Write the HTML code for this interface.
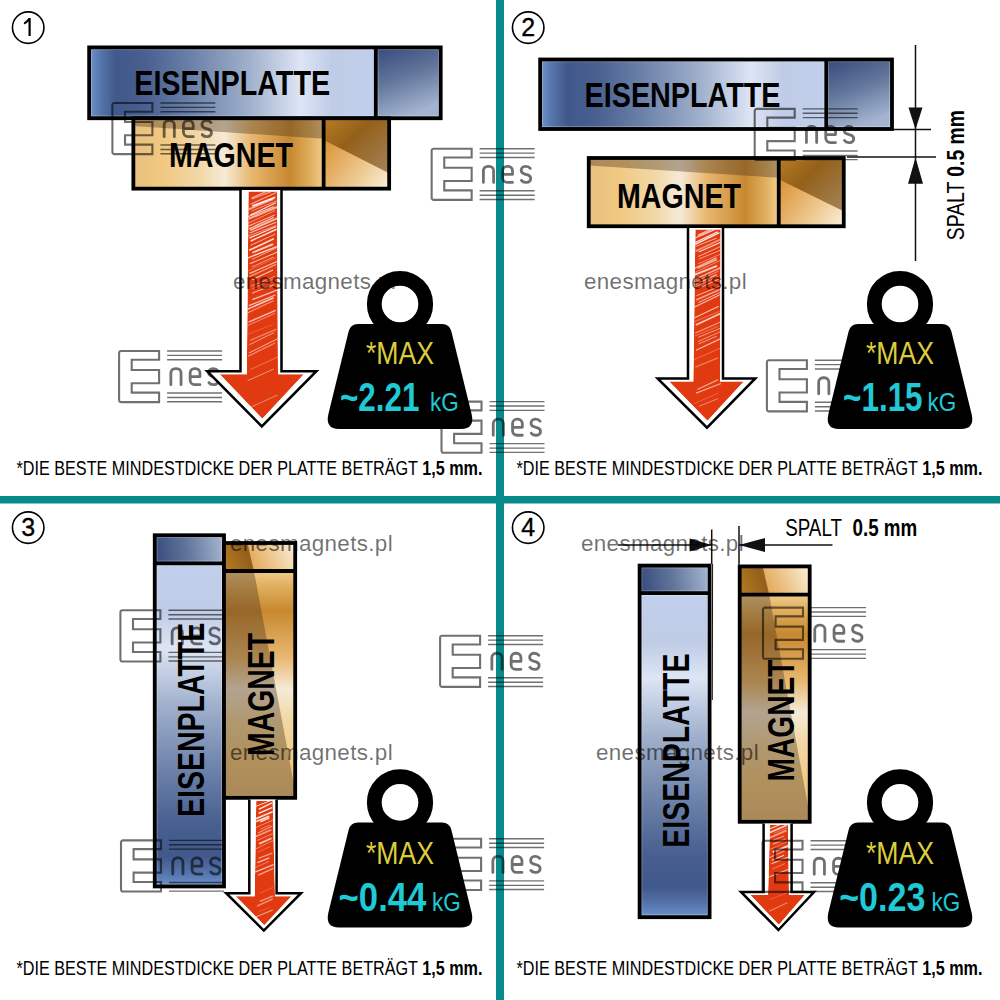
<!DOCTYPE html>
<html><head><meta charset="utf-8"><style>html,body{margin:0;padding:0;background:#fff;overflow:hidden}svg{display:block;font-family:"Liberation Sans",sans-serif}</style></head><body>
<svg width="1000" height="1000" viewBox="0 0 1000 1000" font-family="&apos;Liberation Sans&apos;, sans-serif"><defs><g id="logo" fill="none" stroke="rgba(0,0,0,0.56)"><path d="M0,2.2 Q0,0 2.2,0 H40 V8.75 H12.6 V19 H40 V32.25 H12.6 V41.65 H40 V51.15 H2.2 Q0,51.15 0,48.95 Z" stroke-width="2.1"/><path d="M48,0 H103 M48,4.4 H103 M48,8.75 H103 M48,42.05 H103 M48,46.55 H103 M48,50.75 H103" stroke-width="1.4"/><path d="M51.75,33.65 V22 A4.45,4.45 0 0 1 56.2,17.55 H57.5 A4.45,4.45 0 0 1 61.95,22 V33.65 M71.05,25.7 H80.85 V22 A4.45,4.45 0 0 0 76.4,17.55 H75.5 A4.45,4.45 0 0 0 71.05,22 V29.2 A4.45,4.45 0 0 0 75.5,33.65 H80.85 M98.6,19.6 Q97.2,17.55 94.2,17.55 H93.6 A4.05,4.05 0 0 0 89.55,21.6 Q89.55,24.3 93,25.3 L96,26.2 Q99.05,27.2 99.05,29.8 A3.85,3.85 0 0 1 95.2,33.65 H94 Q91.2,33.65 89.8,31.6" stroke-width="2.8" stroke-linecap="round" stroke-linejoin="round"/></g><linearGradient id="pm1" gradientUnits="userSpaceOnUse" x1="90.65" y1="0" x2="374.25" y2="0"><stop offset="0" stop-color="#6a90c8"/><stop offset="0.03" stop-color="#5878b0"/><stop offset="0.09" stop-color="#40588a"/><stop offset="0.19" stop-color="#485f90"/><stop offset="0.35" stop-color="#6a80a8"/><stop offset="0.56" stop-color="#a0b0cc"/><stop offset="0.74" stop-color="#dde5f5"/><stop offset="0.85" stop-color="#c0cce6"/><stop offset="1" stop-color="#c0cfec"/></linearGradient><linearGradient id="pr1" gradientUnits="userSpaceOnUse" x1="375.75" y1="47.4" x2="401.73" y2="118.25"><stop offset="0" stop-color="#34497a"/><stop offset="0.5" stop-color="#63779c"/><stop offset="1" stop-color="#a4b4d0"/></linearGradient><linearGradient id="mm1" gradientUnits="userSpaceOnUse" x1="134.85" y1="0" x2="322.15" y2="0"><stop offset="0" stop-color="#e8c080"/><stop offset="0.14" stop-color="#f0c880"/><stop offset="0.35" stop-color="#f2d8a8"/><stop offset="0.48" stop-color="#f5ead8"/><stop offset="0.62" stop-color="#e8b870"/><stop offset="0.83" stop-color="#c88830"/><stop offset="0.94" stop-color="#e0b060"/><stop offset="1" stop-color="#f0c888"/></linearGradient><linearGradient id="mr1" gradientUnits="userSpaceOnUse" x1="323.65" y1="118.25" x2="389.15" y2="188.65"><stop offset="0" stop-color="#b87c24"/><stop offset="0.35" stop-color="#94601a"/><stop offset="1" stop-color="#a88c66"/></linearGradient><linearGradient id="mr21" gradientUnits="userSpaceOnUse" x1="323.65" y1="138.25" x2="389.15" y2="188.65"><stop offset="0" stop-color="#d89030"/><stop offset="0.6" stop-color="#eec890"/><stop offset="1" stop-color="#fbf0dc"/></linearGradient><linearGradient id="pm2" gradientUnits="userSpaceOnUse" x1="541.65" y1="0" x2="824.75" y2="0"><stop offset="0" stop-color="#6a90c8"/><stop offset="0.03" stop-color="#5878b0"/><stop offset="0.09" stop-color="#40588a"/><stop offset="0.19" stop-color="#485f90"/><stop offset="0.35" stop-color="#6a80a8"/><stop offset="0.56" stop-color="#a0b0cc"/><stop offset="0.74" stop-color="#dde5f5"/><stop offset="0.85" stop-color="#c0cce6"/><stop offset="1" stop-color="#c0cfec"/></linearGradient><linearGradient id="pr2" gradientUnits="userSpaceOnUse" x1="826.25" y1="59.5" x2="852.55" y2="129"><stop offset="0" stop-color="#34497a"/><stop offset="0.5" stop-color="#63779c"/><stop offset="1" stop-color="#a4b4d0"/></linearGradient><linearGradient id="mm2" gradientUnits="userSpaceOnUse" x1="590.25" y1="0" x2="777.25" y2="0"><stop offset="0" stop-color="#e8c080"/><stop offset="0.14" stop-color="#f0c880"/><stop offset="0.35" stop-color="#f2d8a8"/><stop offset="0.48" stop-color="#f5ead8"/><stop offset="0.62" stop-color="#e8b870"/><stop offset="0.83" stop-color="#c88830"/><stop offset="0.94" stop-color="#e0b060"/><stop offset="1" stop-color="#f0c888"/></linearGradient><linearGradient id="mr2" gradientUnits="userSpaceOnUse" x1="778.75" y1="158" x2="843.75" y2="226.25"><stop offset="0" stop-color="#b87c24"/><stop offset="0.35" stop-color="#94601a"/><stop offset="1" stop-color="#a88c66"/></linearGradient><linearGradient id="mr22" gradientUnits="userSpaceOnUse" x1="778.75" y1="178" x2="843.75" y2="226.25"><stop offset="0" stop-color="#d89030"/><stop offset="0.6" stop-color="#eec890"/><stop offset="1" stop-color="#fbf0dc"/></linearGradient><linearGradient id="pm3" gradientUnits="userSpaceOnUse" x1="0" y1="884.95" x2="0" y2="564.8"><stop offset="0" stop-color="#6a90c8"/><stop offset="0.03" stop-color="#5878b0"/><stop offset="0.09" stop-color="#40588a"/><stop offset="0.19" stop-color="#485f90"/><stop offset="0.35" stop-color="#6a80a8"/><stop offset="0.56" stop-color="#a0b0cc"/><stop offset="0.74" stop-color="#dde5f5"/><stop offset="0.85" stop-color="#c0cce6"/><stop offset="1" stop-color="#c0cfec"/></linearGradient><linearGradient id="pr3" gradientUnits="userSpaceOnUse" x1="154.75" y1="563.3" x2="224" y2="552.08"><stop offset="0" stop-color="#34497a"/><stop offset="0.5" stop-color="#63779c"/><stop offset="1" stop-color="#a4b4d0"/></linearGradient><linearGradient id="mm3" gradientUnits="userSpaceOnUse" x1="0" y1="796.35" x2="0" y2="572.5"><stop offset="0" stop-color="#e8c080"/><stop offset="0.14" stop-color="#f0c880"/><stop offset="0.35" stop-color="#f2d8a8"/><stop offset="0.48" stop-color="#f5ead8"/><stop offset="0.62" stop-color="#e8b870"/><stop offset="0.83" stop-color="#c88830"/><stop offset="0.94" stop-color="#e0b060"/><stop offset="1" stop-color="#f0c888"/></linearGradient><linearGradient id="mr3" gradientUnits="userSpaceOnUse" x1="224" y1="571" x2="295.2" y2="543"><stop offset="0" stop-color="#b87c24"/><stop offset="0.35" stop-color="#94601a"/><stop offset="1" stop-color="#a88c66"/></linearGradient><linearGradient id="mr23" gradientUnits="userSpaceOnUse" x1="234" y1="571" x2="295.2" y2="543"><stop offset="0" stop-color="#d89030"/><stop offset="0.6" stop-color="#eec890"/><stop offset="1" stop-color="#fbf0dc"/></linearGradient><linearGradient id="pm4" gradientUnits="userSpaceOnUse" x1="0" y1="915.7" x2="0" y2="594.7"><stop offset="0" stop-color="#6a90c8"/><stop offset="0.03" stop-color="#5878b0"/><stop offset="0.09" stop-color="#40588a"/><stop offset="0.19" stop-color="#485f90"/><stop offset="0.35" stop-color="#6a80a8"/><stop offset="0.56" stop-color="#a0b0cc"/><stop offset="0.74" stop-color="#dde5f5"/><stop offset="0.85" stop-color="#c0cce6"/><stop offset="1" stop-color="#c0cfec"/></linearGradient><linearGradient id="pr4" gradientUnits="userSpaceOnUse" x1="639.6" y1="593.2" x2="709.6" y2="582.16"><stop offset="0" stop-color="#34497a"/><stop offset="0.5" stop-color="#63779c"/><stop offset="1" stop-color="#a4b4d0"/></linearGradient><linearGradient id="mm4" gradientUnits="userSpaceOnUse" x1="0" y1="820.3" x2="0" y2="596.1"><stop offset="0" stop-color="#e8c080"/><stop offset="0.14" stop-color="#f0c880"/><stop offset="0.35" stop-color="#f2d8a8"/><stop offset="0.48" stop-color="#f5ead8"/><stop offset="0.62" stop-color="#e8b870"/><stop offset="0.83" stop-color="#c88830"/><stop offset="0.94" stop-color="#e0b060"/><stop offset="1" stop-color="#f0c888"/></linearGradient><linearGradient id="mr4" gradientUnits="userSpaceOnUse" x1="739.7" y1="594.6" x2="809.7" y2="566.4"><stop offset="0" stop-color="#b87c24"/><stop offset="0.35" stop-color="#94601a"/><stop offset="1" stop-color="#a88c66"/></linearGradient><linearGradient id="mr24" gradientUnits="userSpaceOnUse" x1="749.7" y1="594.6" x2="809.7" y2="566.4"><stop offset="0" stop-color="#d89030"/><stop offset="0.6" stop-color="#eec890"/><stop offset="1" stop-color="#fbf0dc"/></linearGradient><clipPath id="ac1"><polygon points="248.5,191.5 246.8,374.2 219.777,374.2 262.3,418.712 303.823,374.2 278,374.2 277,191.5"/></clipPath><clipPath id="ac2"><polygon points="695.4,229.5 693.3,381.4 669.204,381.4 707.5,420.822 743.763,381.4 720,381.4 720.6,229.5"/></clipPath><clipPath id="ac3"><polygon points="256.2,801.1 254.7,896.2 235.798,896.2 264.3,925.334 291.434,896.2 275,896.2 272.7,801.1"/></clipPath><clipPath id="ac4"><polygon points="770,825.1 768,895 750.377,895 778.9,924.861 804.765,895 789,895 788,825.1"/></clipPath></defs><rect x="0" y="0" width="1000" height="1000" fill="#fff"/>
<rect x="89.15" y="47.4" width="286.6" height="70.85" fill="url(#pm1)"/>
<rect x="375.75" y="47.4" width="64.95" height="70.85" fill="url(#pr1)"/>
<rect x="91.35" y="49.6" width="282.2" height="66.45" fill="none" stroke="rgba(255,255,255,0.35)" stroke-width="1"/>
<rect x="377.95" y="49.6" width="60.55" height="66.45" fill="none" stroke="rgba(255,255,255,0.35)" stroke-width="1"/>
<rect x="89.15" y="47.4" width="351.55" height="70.85" fill="none" stroke="#000" stroke-width="3.8"/>
<line x1="375.75" y1="47.4" x2="375.75" y2="118.25" stroke="#000" stroke-width="3.8"/>
<text x="0" y="0" transform="translate(134.2,94.6) scale(0.81,1)" font-weight="bold" font-size="35.5">EISENPLATTE</text>
<rect x="133.35" y="118.25" width="190.3" height="70.4" fill="url(#mm1)"/>
<polygon points="133.35,118.25 323.65,118.25 323.65,138.666 133.35,125.994" fill="rgba(70,50,30,0.38)"/>
<rect x="323.65" y="118.25" width="65.5" height="70.4" fill="url(#mr1)"/>
<polygon points="323.65,140.074 389.15,173.162 389.15,188.65 323.65,188.65" fill="url(#mr21)"/>
<rect x="133.35" y="118.25" width="255.8" height="70.4" fill="none" stroke="#000" stroke-width="3.8"/>
<line x1="323.65" y1="118.25" x2="323.65" y2="188.65" stroke="#000" stroke-width="3.8"/>
<text x="0" y="0" transform="translate(169,166.6) scale(0.807,1)" font-weight="bold" font-size="35.5">MAGNET</text>
<rect x="540.15" y="59.5" width="286.1" height="69.5" fill="url(#pm2)"/>
<rect x="826.25" y="59.5" width="65.75" height="69.5" fill="url(#pr2)"/>
<rect x="542.35" y="61.7" width="281.7" height="65.1" fill="none" stroke="rgba(255,255,255,0.35)" stroke-width="1"/>
<rect x="828.45" y="61.7" width="61.35" height="65.1" fill="none" stroke="rgba(255,255,255,0.35)" stroke-width="1"/>
<rect x="540.15" y="59.5" width="351.85" height="69.5" fill="none" stroke="#000" stroke-width="3.8"/>
<line x1="826.25" y1="59.5" x2="826.25" y2="129" stroke="#000" stroke-width="3.8"/>
<text x="0" y="0" transform="translate(584.6,107.2) scale(0.81,1)" font-weight="bold" font-size="35.5">EISENPLATTE</text>
<rect x="588.75" y="158" width="190" height="68.25" fill="url(#mm2)"/>
<polygon points="588.75,158 778.75,158 778.75,177.792 588.75,165.507" fill="rgba(70,50,30,0.38)"/>
<rect x="778.75" y="158" width="65" height="68.25" fill="url(#mr2)"/>
<polygon points="778.75,179.157 843.75,211.235 843.75,226.25 778.75,226.25" fill="url(#mr22)"/>
<rect x="588.75" y="158" width="255" height="68.25" fill="none" stroke="#000" stroke-width="3.8"/>
<line x1="778.75" y1="158" x2="778.75" y2="226.25" stroke="#000" stroke-width="3.8"/>
<text x="0" y="0" transform="translate(617,208.2) scale(0.807,1)" font-weight="bold" font-size="35.5">MAGNET</text>
<rect x="154.75" y="563.3" width="69.25" height="323.15" fill="url(#pm3)"/>
<rect x="154.75" y="535.25" width="69.25" height="28.05" fill="url(#pr3)"/>
<rect x="156.95" y="565.5" width="64.85" height="318.75" fill="none" stroke="rgba(255,255,255,0.35)" stroke-width="1"/>
<rect x="156.95" y="537.45" width="64.85" height="23.65" fill="none" stroke="rgba(255,255,255,0.35)" stroke-width="1"/>
<rect x="154.75" y="535.25" width="69.25" height="351.2" fill="none" stroke="#000" stroke-width="3.8"/>
<line x1="154.75" y1="563.3" x2="224" y2="563.3" stroke="#000" stroke-width="3.8"/>
<text x="0" y="0" transform="translate(203.5,817) rotate(-90) scale(0.76,1)" font-weight="bold" font-size="37.5">EISENPLATTE</text>
<rect x="224" y="571" width="71.2" height="226.85" fill="url(#mm3)"/>
<polygon points="224,571 253.904,571 295.2,791.044 295.2,797.85 224,797.85" fill="rgba(70,50,30,0.38)"/>
<rect x="224" y="543" width="71.2" height="28" fill="url(#mr3)"/>
<polygon points="253.904,571 295.2,571 295.2,543 247.496,543" fill="url(#mr23)"/>
<rect x="224" y="543" width="71.2" height="254.85" fill="none" stroke="#000" stroke-width="3.8"/>
<line x1="224" y1="571" x2="295.2" y2="571" stroke="#000" stroke-width="3.8"/>
<text x="0" y="0" transform="translate(274.2,756) rotate(-90) scale(0.779,1)" font-weight="bold" font-size="36.5">MAGNET</text>
<rect x="639.6" y="593.2" width="70" height="324" fill="url(#pm4)"/>
<rect x="639.6" y="565.6" width="70" height="27.6" fill="url(#pr4)"/>
<rect x="641.8" y="595.4" width="65.6" height="319.6" fill="none" stroke="rgba(255,255,255,0.35)" stroke-width="1"/>
<rect x="641.8" y="567.8" width="65.6" height="23.2" fill="none" stroke="rgba(255,255,255,0.35)" stroke-width="1"/>
<rect x="639.6" y="565.6" width="70" height="351.6" fill="none" stroke="#000" stroke-width="3.8"/>
<line x1="639.6" y1="593.2" x2="709.6" y2="593.2" stroke="#000" stroke-width="3.8"/>
<text x="0" y="0" transform="translate(688.5,847.7) rotate(-90) scale(0.76,1)" font-weight="bold" font-size="37.5">EISENPLATTE</text>
<rect x="739.7" y="594.6" width="70" height="227.2" fill="url(#mm4)"/>
<polygon points="739.7,594.6 769.1,594.6 809.7,814.984 809.7,821.8 739.7,821.8" fill="rgba(70,50,30,0.38)"/>
<rect x="739.7" y="566.4" width="70" height="28.2" fill="url(#mr4)"/>
<polygon points="769.1,594.6 809.7,594.6 809.7,566.4 762.8,566.4" fill="url(#mr24)"/>
<rect x="739.7" y="566.4" width="70" height="255.4" fill="none" stroke="#000" stroke-width="3.8"/>
<line x1="739.7" y1="594.6" x2="809.7" y2="594.6" stroke="#000" stroke-width="3.8"/>
<text x="0" y="0" transform="translate(794.2,781.4) rotate(-90) scale(0.77,1)" font-weight="bold" font-size="36.5">MAGNET</text>
<use href="#logo" x="119.1" y="351"/>
<polygon points="240.5,190 240.5,371.2 207.2,371.2 261.8,426.4 316.4,371.2 281.5,371.2 281.5,190" fill="#fff"/>
<g clip-path="url(#ac1)">
<polygon points="248.5,191.5 246.8,374.2 219.777,374.2 262.3,418.712 303.823,374.2 278,374.2 277,191.5" fill="#e23a10"/>
<line x1="251.4" y1="198.2" x2="274.1" y2="187.8" stroke="rgba(255,255,255,0.55)" stroke-width="1.41"/><line x1="252.2" y1="198.9" x2="273.0" y2="190.9" stroke="rgba(255,255,255,0.57)" stroke-width="1.05"/><line x1="250.5" y1="204.3" x2="276.3" y2="192.5" stroke="rgba(255,255,255,0.59)" stroke-width="1.13"/><line x1="252.3" y1="206.0" x2="275.3" y2="197.2" stroke="rgba(255,255,255,0.93)" stroke-width="1.65"/><line x1="248.7" y1="209.3" x2="273.6" y2="198.9" stroke="rgba(255,255,255,0.59)" stroke-width="1.88"/><line x1="251.6" y1="211.0" x2="278.1" y2="200.3" stroke="rgba(255,255,255,0.72)" stroke-width="0.68"/><line x1="250.4" y1="215.1" x2="275.8" y2="202.8" stroke="rgba(255,255,255,0.83)" stroke-width="1.26"/><line x1="247.2" y1="217.1" x2="274.3" y2="206.5" stroke="rgba(255,255,255,0.72)" stroke-width="1.09"/><line x1="249.0" y1="218.7" x2="277.5" y2="206.9" stroke="rgba(255,255,255,0.64)" stroke-width="1.86"/><line x1="247.5" y1="223.6" x2="275.1" y2="210.4" stroke="rgba(255,255,255,0.65)" stroke-width="0.74"/><line x1="246.5" y1="226.9" x2="274.7" y2="215.0" stroke="rgba(255,255,255,0.63)" stroke-width="1.04"/><line x1="248.8" y1="228.9" x2="273.8" y2="217.4" stroke="rgba(255,255,255,0.70)" stroke-width="1.17"/><line x1="250.1" y1="230.3" x2="278.6" y2="217.8" stroke="rgba(255,255,255,0.67)" stroke-width="1.77"/><line x1="249.7" y1="232.9" x2="276.1" y2="222.3" stroke="rgba(255,255,255,0.69)" stroke-width="1.12"/><line x1="246.5" y1="236.8" x2="275.8" y2="225.5" stroke="rgba(255,255,255,0.43)" stroke-width="1.11"/><line x1="249.4" y1="238.1" x2="276.2" y2="226.5" stroke="rgba(255,255,255,0.87)" stroke-width="1.15"/><line x1="250.7" y1="241.0" x2="276.5" y2="229.2" stroke="rgba(255,255,255,0.83)" stroke-width="1.50"/><line x1="250.6" y1="245.3" x2="275.1" y2="234.2" stroke="rgba(255,255,255,0.70)" stroke-width="0.86"/><line x1="249.1" y1="250.3" x2="273.8" y2="238.8" stroke="rgba(255,255,255,0.84)" stroke-width="1.59"/><line x1="252.3" y1="252.7" x2="273.1" y2="244.1" stroke="rgba(255,255,255,0.75)" stroke-width="1.71"/><line x1="247.7" y1="258.0" x2="276.9" y2="246.7" stroke="rgba(255,255,255,0.81)" stroke-width="1.29"/><line x1="251.8" y1="259.5" x2="276.2" y2="248.1" stroke="rgba(255,255,255,0.84)" stroke-width="0.66"/><line x1="249.8" y1="263.8" x2="277.4" y2="252.1" stroke="rgba(255,255,255,0.69)" stroke-width="1.07"/><line x1="251.7" y1="267.1" x2="273.8" y2="257.0" stroke="rgba(255,255,255,0.66)" stroke-width="0.79"/><line x1="248.0" y1="270.9" x2="276.3" y2="257.6" stroke="rgba(255,255,255,0.41)" stroke-width="0.64"/><line x1="249.5" y1="273.5" x2="277.4" y2="261.4" stroke="rgba(255,255,255,0.61)" stroke-width="1.38"/><line x1="249.4" y1="276.8" x2="276.1" y2="264.4" stroke="rgba(255,255,255,0.58)" stroke-width="1.11"/><line x1="252.3" y1="279.7" x2="273.0" y2="270.0" stroke="rgba(255,255,255,0.72)" stroke-width="1.01"/><line x1="250.9" y1="286.3" x2="275.3" y2="276.2" stroke="rgba(255,255,255,0.51)" stroke-width="0.91"/><line x1="252.1" y1="288.9" x2="277.7" y2="276.9" stroke="rgba(255,255,255,0.70)" stroke-width="0.62"/><line x1="252.3" y1="293.1" x2="273.8" y2="284.9" stroke="rgba(255,255,255,0.55)" stroke-width="1.18"/><line x1="252.2" y1="299.6" x2="277.0" y2="290.1" stroke="rgba(255,255,255,0.67)" stroke-width="1.44"/><line x1="248.9" y1="305.6" x2="275.4" y2="295.0" stroke="rgba(255,255,255,0.71)" stroke-width="1.15"/><line x1="246.7" y1="309.6" x2="273.5" y2="297.8" stroke="rgba(255,255,255,0.76)" stroke-width="1.48"/><line x1="247.4" y1="312.9" x2="273.8" y2="300.6" stroke="rgba(255,255,255,0.49)" stroke-width="1.15"/><line x1="248.6" y1="322.1" x2="275.6" y2="310.3" stroke="rgba(255,255,255,0.67)" stroke-width="1.41"/><line x1="247.6" y1="325.6" x2="275.2" y2="313.2" stroke="rgba(255,255,255,0.70)" stroke-width="0.64"/><line x1="248.4" y1="334.0" x2="273.3" y2="324.4" stroke="rgba(255,255,255,0.36)" stroke-width="0.52"/><line x1="250.1" y1="340.4" x2="276.4" y2="329.3" stroke="rgba(255,255,255,0.35)" stroke-width="1.48"/><line x1="249.3" y1="344.7" x2="274.3" y2="332.5" stroke="rgba(255,255,255,0.60)" stroke-width="0.89"/><line x1="248.9" y1="353.0" x2="278.4" y2="338.4" stroke="rgba(255,255,255,0.64)" stroke-width="0.99"/><line x1="248.2" y1="356.1" x2="275.1" y2="343.0" stroke="rgba(255,255,255,0.43)" stroke-width="1.19"/><line x1="250.7" y1="369.4" x2="278.4" y2="356.7" stroke="rgba(255,255,255,0.54)" stroke-width="0.59"/><line x1="247.6" y1="380.7" x2="273.8" y2="369.0" stroke="rgba(255,255,255,0.62)" stroke-width="0.77"/><line x1="248.0" y1="408.4" x2="277.5" y2="395.0" stroke="rgba(255,255,255,0.57)" stroke-width="0.70"/>
</g>
<polyline points="240.5,190 240.5,371.2 207.2,371.2 261.8,426.4 316.4,371.2 281.5,371.2 281.5,190" fill="none" stroke="#000" stroke-width="2.5" stroke-linejoin="miter"/>
<polygon points="688,228 688,378.4 657.6,378.4 707,427.7 755.3,378.4 723,378.4 723,228" fill="#fff"/>
<g clip-path="url(#ac2)">
<polygon points="695.4,229.5 693.3,381.4 669.204,381.4 707.5,420.822 743.763,381.4 720,381.4 720.6,229.5" fill="#e23a10"/>
<line x1="698.0" y1="235.5" x2="718.4" y2="226.1" stroke="rgba(255,255,255,0.59)" stroke-width="1.94"/><line x1="694.9" y1="238.1" x2="719.6" y2="227.7" stroke="rgba(255,255,255,0.82)" stroke-width="1.13"/><line x1="693.8" y1="243.3" x2="717.7" y2="231.7" stroke="rgba(255,255,255,0.94)" stroke-width="1.15"/><line x1="694.7" y1="244.7" x2="719.4" y2="232.7" stroke="rgba(255,255,255,0.91)" stroke-width="1.36"/><line x1="696.2" y1="246.2" x2="716.6" y2="238.1" stroke="rgba(255,255,255,0.90)" stroke-width="0.70"/><line x1="695.6" y1="251.2" x2="722.3" y2="238.6" stroke="rgba(255,255,255,0.44)" stroke-width="1.84"/><line x1="698.6" y1="252.0" x2="721.2" y2="242.0" stroke="rgba(255,255,255,0.80)" stroke-width="1.09"/><line x1="698.1" y1="256.6" x2="721.4" y2="246.1" stroke="rgba(255,255,255,0.56)" stroke-width="1.06"/><line x1="698.9" y1="259.1" x2="720.7" y2="250.0" stroke="rgba(255,255,255,0.74)" stroke-width="0.74"/><line x1="697.9" y1="263.9" x2="720.5" y2="254.1" stroke="rgba(255,255,255,0.43)" stroke-width="0.93"/><line x1="693.9" y1="268.8" x2="716.7" y2="257.6" stroke="rgba(255,255,255,0.56)" stroke-width="1.52"/><line x1="697.8" y1="268.1" x2="716.8" y2="259.5" stroke="rgba(255,255,255,0.60)" stroke-width="1.45"/><line x1="694.1" y1="272.9" x2="721.3" y2="259.8" stroke="rgba(255,255,255,0.48)" stroke-width="0.88"/><line x1="693.7" y1="275.1" x2="717.0" y2="265.9" stroke="rgba(255,255,255,0.78)" stroke-width="1.74"/><line x1="693.9" y1="279.9" x2="722.1" y2="267.0" stroke="rgba(255,255,255,0.59)" stroke-width="1.39"/><line x1="695.2" y1="281.5" x2="718.3" y2="271.3" stroke="rgba(255,255,255,0.48)" stroke-width="0.88"/><line x1="696.1" y1="284.3" x2="716.8" y2="274.6" stroke="rgba(255,255,255,0.63)" stroke-width="1.24"/><line x1="693.6" y1="287.5" x2="718.1" y2="276.5" stroke="rgba(255,255,255,0.56)" stroke-width="0.78"/><line x1="699.0" y1="288.2" x2="719.3" y2="279.0" stroke="rgba(255,255,255,0.65)" stroke-width="0.95"/><line x1="696.5" y1="295.7" x2="719.5" y2="286.5" stroke="rgba(255,255,255,0.65)" stroke-width="0.97"/><line x1="696.1" y1="300.0" x2="719.6" y2="289.6" stroke="rgba(255,255,255,0.58)" stroke-width="1.46"/><line x1="698.4" y1="302.6" x2="719.8" y2="292.5" stroke="rgba(255,255,255,0.80)" stroke-width="0.84"/><line x1="693.6" y1="307.6" x2="719.8" y2="294.8" stroke="rgba(255,255,255,0.67)" stroke-width="1.14"/><line x1="694.7" y1="317.8" x2="718.7" y2="306.2" stroke="rgba(255,255,255,0.68)" stroke-width="1.14"/><line x1="694.5" y1="321.7" x2="719.4" y2="311.4" stroke="rgba(255,255,255,0.58)" stroke-width="0.57"/><line x1="695.8" y1="325.0" x2="722.6" y2="312.5" stroke="rgba(255,255,255,0.75)" stroke-width="1.44"/><line x1="695.3" y1="333.2" x2="720.6" y2="322.0" stroke="rgba(255,255,255,0.47)" stroke-width="1.32"/><line x1="694.9" y1="336.0" x2="718.5" y2="326.2" stroke="rgba(255,255,255,0.40)" stroke-width="0.80"/><line x1="698.1" y1="337.4" x2="721.7" y2="327.7" stroke="rgba(255,255,255,0.73)" stroke-width="0.72"/><line x1="698.0" y1="341.6" x2="721.7" y2="331.0" stroke="rgba(255,255,255,0.54)" stroke-width="0.90"/><line x1="698.7" y1="343.9" x2="716.9" y2="336.1" stroke="rgba(255,255,255,0.64)" stroke-width="0.82"/><line x1="696.0" y1="350.3" x2="720.7" y2="338.6" stroke="rgba(255,255,255,0.63)" stroke-width="1.24"/><line x1="693.4" y1="359.9" x2="721.9" y2="347.5" stroke="rgba(255,255,255,0.40)" stroke-width="0.72"/><line x1="695.4" y1="367.2" x2="718.0" y2="357.8" stroke="rgba(255,255,255,0.34)" stroke-width="1.41"/><line x1="697.3" y1="389.5" x2="718.0" y2="379.7" stroke="rgba(255,255,255,0.59)" stroke-width="1.22"/><line x1="696.0" y1="393.2" x2="721.0" y2="383.5" stroke="rgba(255,255,255,0.58)" stroke-width="1.27"/><line x1="693.8" y1="403.8" x2="718.6" y2="392.9" stroke="rgba(255,255,255,0.49)" stroke-width="0.45"/><line x1="699.0" y1="406.3" x2="718.1" y2="398.6" stroke="rgba(255,255,255,0.59)" stroke-width="0.72"/>
</g>
<polyline points="688,228 688,378.4 657.6,378.4 707,427.7 755.3,378.4 723,378.4 723,228" fill="none" stroke="#000" stroke-width="2.5" stroke-linejoin="miter"/>
<polygon points="249.3,799.6 249.3,893.2 226.2,893.2 263.8,930.6 301,893.2 276.6,893.2 276.6,799.6" fill="#fff"/>
<g clip-path="url(#ac3)">
<polygon points="256.2,801.1 254.7,896.2 235.798,896.2 264.3,925.334 291.434,896.2 275,896.2 272.7,801.1" fill="#e23a10"/>
<line x1="255.4" y1="806.5" x2="270.7" y2="800.6" stroke="rgba(255,255,255,0.95)" stroke-width="0.86"/><line x1="258.8" y1="809.3" x2="272.1" y2="802.9" stroke="rgba(255,255,255,0.80)" stroke-width="1.57"/><line x1="258.6" y1="813.3" x2="272.0" y2="807.7" stroke="rgba(255,255,255,0.91)" stroke-width="1.29"/><line x1="255.1" y1="819.0" x2="272.7" y2="811.7" stroke="rgba(255,255,255,0.84)" stroke-width="1.60"/><line x1="256.1" y1="821.5" x2="269.3" y2="816.3" stroke="rgba(255,255,255,0.86)" stroke-width="1.76"/><line x1="260.2" y1="821.8" x2="269.5" y2="818.0" stroke="rgba(255,255,255,0.80)" stroke-width="1.62"/><line x1="255.1" y1="827.9" x2="273.8" y2="819.7" stroke="rgba(255,255,255,0.65)" stroke-width="0.68"/><line x1="260.2" y1="829.4" x2="270.1" y2="825.0" stroke="rgba(255,255,255,0.64)" stroke-width="0.72"/><line x1="258.1" y1="832.9" x2="272.4" y2="826.1" stroke="rgba(255,255,255,0.69)" stroke-width="0.88"/><line x1="255.3" y1="836.7" x2="271.3" y2="829.8" stroke="rgba(255,255,255,0.51)" stroke-width="1.59"/><line x1="256.9" y1="840.5" x2="272.8" y2="833.6" stroke="rgba(255,255,255,0.42)" stroke-width="1.00"/><line x1="259.1" y1="843.9" x2="271.5" y2="838.3" stroke="rgba(255,255,255,0.70)" stroke-width="1.75"/><line x1="256.0" y1="848.8" x2="272.7" y2="840.6" stroke="rgba(255,255,255,0.51)" stroke-width="0.79"/><line x1="257.5" y1="852.2" x2="270.5" y2="846.5" stroke="rgba(255,255,255,0.49)" stroke-width="0.53"/><line x1="258.5" y1="858.4" x2="272.3" y2="853.1" stroke="rgba(255,255,255,0.49)" stroke-width="1.38"/><line x1="257.4" y1="862.6" x2="269.3" y2="857.8" stroke="rgba(255,255,255,0.69)" stroke-width="1.39"/><line x1="254.5" y1="867.9" x2="269.1" y2="861.3" stroke="rgba(255,255,255,0.68)" stroke-width="0.54"/><line x1="254.8" y1="872.1" x2="273.6" y2="864.6" stroke="rgba(255,255,255,0.65)" stroke-width="1.49"/><line x1="258.4" y1="875.2" x2="273.2" y2="868.4" stroke="rgba(255,255,255,0.53)" stroke-width="1.34"/><line x1="260.0" y1="893.5" x2="273.0" y2="887.2" stroke="rgba(255,255,255,0.35)" stroke-width="0.59"/><line x1="259.9" y1="901.4" x2="273.3" y2="895.9" stroke="rgba(255,255,255,0.50)" stroke-width="1.15"/><line x1="257.1" y1="906.2" x2="272.7" y2="898.8" stroke="rgba(255,255,255,0.48)" stroke-width="1.38"/><line x1="259.1" y1="911.5" x2="270.3" y2="907.0" stroke="rgba(255,255,255,0.36)" stroke-width="0.47"/><line x1="255.6" y1="917.1" x2="272.7" y2="910.1" stroke="rgba(255,255,255,0.55)" stroke-width="1.09"/><line x1="259.8" y1="931.5" x2="272.5" y2="926.3" stroke="rgba(255,255,255,0.49)" stroke-width="1.04"/>
</g>
<polyline points="249.3,799.6 249.3,893.2 226.2,893.2 263.8,930.6 301,893.2 276.6,893.2 276.6,799.6" fill="none" stroke="#000" stroke-width="2.5" stroke-linejoin="miter"/>
<polygon points="763.6,823.6 763.6,892 741,892 778.4,930 814,892 791.6,892 791.6,823.6" fill="#fff"/>
<g clip-path="url(#ac4)">
<polygon points="770,825.1 768,895 750.377,895 778.9,924.861 804.765,895 789,895 788,825.1" fill="#e23a10"/>
<line x1="768.8" y1="829.2" x2="789.3" y2="820.8" stroke="rgba(255,255,255,0.79)" stroke-width="1.15"/><line x1="768.8" y1="833.0" x2="786.8" y2="825.2" stroke="rgba(255,255,255,0.78)" stroke-width="1.63"/><line x1="773.6" y1="833.4" x2="787.6" y2="827.7" stroke="rgba(255,255,255,0.45)" stroke-width="0.71"/><line x1="769.3" y1="838.0" x2="786.5" y2="830.3" stroke="rgba(255,255,255,0.53)" stroke-width="1.87"/><line x1="773.0" y1="840.2" x2="784.1" y2="836.0" stroke="rgba(255,255,255,0.52)" stroke-width="1.05"/><line x1="772.8" y1="844.2" x2="785.6" y2="839.1" stroke="rgba(255,255,255,0.52)" stroke-width="1.42"/><line x1="770.0" y1="849.4" x2="787.6" y2="841.3" stroke="rgba(255,255,255,0.56)" stroke-width="0.61"/><line x1="772.7" y1="852.1" x2="788.2" y2="845.9" stroke="rgba(255,255,255,0.85)" stroke-width="1.78"/><line x1="769.2" y1="857.7" x2="784.5" y2="850.8" stroke="rgba(255,255,255,0.43)" stroke-width="1.37"/><line x1="771.9" y1="860.2" x2="784.1" y2="855.3" stroke="rgba(255,255,255,0.77)" stroke-width="1.01"/><line x1="771.4" y1="863.7" x2="789.3" y2="856.7" stroke="rgba(255,255,255,0.70)" stroke-width="1.04"/><line x1="772.3" y1="869.1" x2="784.9" y2="863.6" stroke="rgba(255,255,255,0.50)" stroke-width="0.73"/><line x1="768.2" y1="877.3" x2="789.3" y2="869.0" stroke="rgba(255,255,255,0.59)" stroke-width="1.16"/><line x1="769.7" y1="899.6" x2="788.9" y2="892.2" stroke="rgba(255,255,255,0.43)" stroke-width="0.44"/><line x1="769.1" y1="911.2" x2="787.3" y2="902.7" stroke="rgba(255,255,255,0.40)" stroke-width="1.22"/>
</g>
<polyline points="763.6,823.6 763.6,892 741,892 778.4,930 814,892 791.6,892 791.6,823.6" fill="none" stroke="#000" stroke-width="2.5" stroke-linejoin="miter"/>
<g stroke="#111" stroke-width="1.5" fill="none">
<line x1="915.5" y1="45" x2="915.5" y2="261"/>
<line x1="892.5" y1="129.5" x2="931" y2="129.5"/>
<line x1="847" y1="157" x2="936" y2="157"/>
</g>
<polygon points="908.5,107.5 922.5,107.5 915.5,129.5" fill="#111"/>
<polygon points="908,183.75 923,183.75 915.5,157.5" fill="#111"/>
<text x="0" y="0" transform="translate(963.7,240.2) rotate(-90) scale(0.824,1)" font-size="23.5">SPALT <tspan font-weight="bold">0.5 mm</tspan></text>
<g stroke="#111" stroke-width="1.5" fill="none">
<line x1="711.7" y1="529.5" x2="711.7" y2="564"/>
<line x1="712.6" y1="564" x2="712.3" y2="700" stroke-width="1"/>
<line x1="739" y1="526" x2="739" y2="564.6"/>
<line x1="618" y1="545.1" x2="711.7" y2="545.1"/>
<line x1="739" y1="545.1" x2="832.5" y2="545.1"/>
</g>
<polygon points="689.6,538.6 689.6,551.6 711.7,545.1" fill="#111"/>
<polygon points="765,538.1 765,552.1 739,545.1" fill="#111"/>
<text x="0" y="0" transform="translate(785.2,536.4) scale(0.8,1)" font-size="23.5">SPALT</text><text x="0" y="0" transform="translate(852.5,536.4) scale(0.8,1)" font-size="23.5" font-weight="bold">0.5 mm</text>
<rect x="496" y="0" width="8" height="1000" fill="#078a8c"/>
<rect x="0" y="496" width="1000" height="7.5" fill="#078a8c"/>
<use href="#logo" x="112.4" y="103"/>
<use href="#logo" x="431.65" y="148.75"/>
<use href="#logo" x="754.7" y="108.9"/>
<use href="#logo" x="766.9" y="360.2"/>
<use href="#logo" x="441.5" y="401.6"/>
<use href="#logo" x="120.4" y="610.3"/>
<use href="#logo" x="440.1" y="635.7"/>
<use href="#logo" x="121" y="840.4"/>
<use href="#logo" x="441.1" y="838.8"/>
<use href="#logo" x="763" y="607.6"/>
<use href="#logo" x="762.5" y="840.7"/>
<text x="233" y="289" font-size="22.4" letter-spacing="0.35" fill="rgba(0,0,0,0.56)">enesmagnets.pl</text>
<text x="584" y="289.3" font-size="22.4" letter-spacing="0.35" fill="rgba(0,0,0,0.56)">enesmagnets.pl</text>
<text x="230" y="551" font-size="22.4" letter-spacing="0.35" fill="rgba(0,0,0,0.56)">enesmagnets.pl</text>
<text x="230" y="760" font-size="22.4" letter-spacing="0.35" fill="rgba(0,0,0,0.56)">enesmagnets.pl</text>
<text x="581" y="550.6" font-size="22.4" letter-spacing="0.35" fill="rgba(0,0,0,0.56)">enesmagnets.pl</text>
<text x="596" y="760" font-size="22.4" letter-spacing="0.35" fill="rgba(0,0,0,0.56)">enesmagnets.pl</text>
<circle cx="400" cy="304" r="25.7" fill="none" stroke="#000" stroke-width="14.8"/>
<path transform="translate(0,0)" d="M358,324 H442 Q449.6,324 451.4,331.5 L471.6,414 Q475,429 461,429 H339 Q325,429 328.4,414 L348.6,331.5 Q350.4,324 358,324 Z" fill="#000"/>
<text x="0" y="0" transform="translate(400,364.4) scale(0.86,1)" font-size="31" fill="#dccd3a" text-anchor="middle">*MAX</text>
<text x="0" y="0" transform="translate(339.9,411.2) scale(0.77,1)" fill="#1fc9d5" font-weight="bold" font-size="40.8">~2.21</text>
<text x="0" y="0" transform="translate(430.1,411.2) scale(0.89,1)" fill="#1fc9d5" font-size="25.3">kG</text>
<circle cx="900" cy="304" r="25.7" fill="none" stroke="#000" stroke-width="14.8"/>
<path transform="translate(500,0)" d="M358,324 H442 Q449.6,324 451.4,331.5 L471.6,414 Q475,429 461,429 H339 Q325,429 328.4,414 L348.6,331.5 Q350.4,324 358,324 Z" fill="#000"/>
<text x="0" y="0" transform="translate(900,364.4) scale(0.86,1)" font-size="31" fill="#dccd3a" text-anchor="middle">*MAX</text>
<text x="0" y="0" transform="translate(843.1,411.2) scale(0.77,1)" fill="#1fc9d5" font-weight="bold" font-size="40.8">~1.15</text>
<text x="0" y="0" transform="translate(927.5,411.2) scale(0.89,1)" fill="#1fc9d5" font-size="25.3">kG</text>
<circle cx="400" cy="802.4" r="25.7" fill="none" stroke="#000" stroke-width="14.8"/>
<path transform="translate(0,498.4)" d="M358,324 H442 Q449.6,324 451.4,331.5 L471.6,414 Q475,429 461,429 H339 Q325,429 328.4,414 L348.6,331.5 Q350.4,324 358,324 Z" fill="#000"/>
<text x="0" y="0" transform="translate(400,864.4) scale(0.86,1)" font-size="31" fill="#dccd3a" text-anchor="middle">*MAX</text>
<text x="0" y="0" transform="translate(338.6,911.2) scale(0.85,1)" fill="#1fc9d5" font-weight="bold" font-size="40.8">~0.44</text>
<text x="0" y="0" transform="translate(432,911.2) scale(0.89,1)" fill="#1fc9d5" font-size="25.3">kG</text>
<circle cx="900" cy="802.4" r="25.7" fill="none" stroke="#000" stroke-width="14.8"/>
<path transform="translate(500,498.4)" d="M358,324 H442 Q449.6,324 451.4,331.5 L471.6,414 Q475,429 461,429 H339 Q325,429 328.4,414 L348.6,331.5 Q350.4,324 358,324 Z" fill="#000"/>
<text x="0" y="0" transform="translate(900,864.4) scale(0.86,1)" font-size="31" fill="#dccd3a" text-anchor="middle">*MAX</text>
<text x="0" y="0" transform="translate(839.2,911.2) scale(0.835,1)" fill="#1fc9d5" font-weight="bold" font-size="40.8">~0.23</text>
<text x="0" y="0" transform="translate(931.4,911.2) scale(0.89,1)" fill="#1fc9d5" font-size="25.3">kG</text>
<circle cx="28.2" cy="27.6" r="15.75" fill="none" stroke="#000" stroke-width="1.6"/>
<path transform="translate(0,0)" d="M28.5,18 H30.7 V36 H28.5 V21.6 Q26.8,23.4 23.9,24.6 V22.4 Q27,20.8 28.5,18 Z" fill="#000"/>
<circle cx="528.2" cy="27.6" r="15.75" fill="none" stroke="#000" stroke-width="1.6"/>
<text x="528.2" y="36.1" font-size="25" text-anchor="middle" stroke="#000" stroke-width="0.35">2</text>
<circle cx="28.2" cy="527.6" r="15.75" fill="none" stroke="#000" stroke-width="1.6"/>
<text x="28.2" y="536.1" font-size="25" text-anchor="middle" stroke="#000" stroke-width="0.35">3</text>
<circle cx="528.2" cy="527.6" r="15.75" fill="none" stroke="#000" stroke-width="1.6"/>
<text x="528.2" y="536.1" font-size="25" text-anchor="middle" stroke="#000" stroke-width="0.35">4</text>
<text x="0" y="0" transform="translate(16.5,474.7) scale(0.809,1)" font-size="20">*DIE BESTE MINDESTDICKE DER PLATTE BETRÄGT <tspan font-weight="bold">1,5 mm.</tspan></text>
<text x="0" y="0" transform="translate(516.5,474.7) scale(0.809,1)" font-size="20">*DIE BESTE MINDESTDICKE DER PLATTE BETRÄGT <tspan font-weight="bold">1,5 mm.</tspan></text>
<text x="0" y="0" transform="translate(16.5,974.7) scale(0.809,1)" font-size="20">*DIE BESTE MINDESTDICKE DER PLATTE BETRÄGT <tspan font-weight="bold">1,5 mm.</tspan></text>
<text x="0" y="0" transform="translate(516.5,974.7) scale(0.809,1)" font-size="20">*DIE BESTE MINDESTDICKE DER PLATTE BETRÄGT <tspan font-weight="bold">1,5 mm.</tspan></text></svg>
</body></html>
